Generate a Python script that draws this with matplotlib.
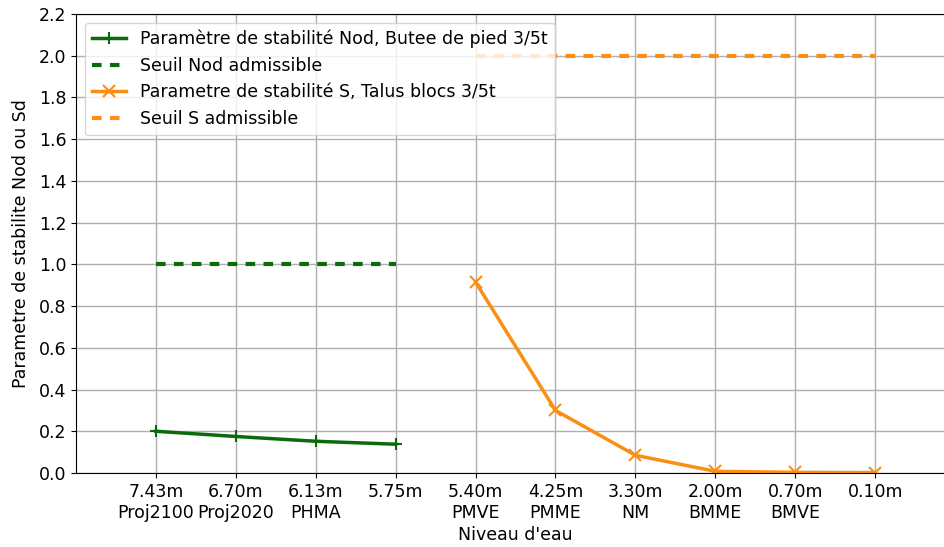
import matplotlib
matplotlib.use("Agg")
import matplotlib.pyplot as plt

categories = ["7.43m\nProj2100", "6.70m\nProj2020", "6.13m\nPHMA", "5.75m", "5.40m\nPMVE",
              "4.25m\nPMME", "3.30m\nNM", "2.00m\nBMME", "0.70m\nBMVE", "0.10m"]
nod_x = [0, 1, 2, 3]
nod_values = [0.20, 0.175, 0.152, 0.138]
nod_threshold = [1.0, 1.0, 1.0, 1.0]
s_x = [4, 5, 6, 7, 8, 9]
s_values = [0.915, 0.30, 0.085, 0.008, 0.003, 0.002]
s_threshold = [2.0, 2.0, 2.0, 2.0, 2.0, 2.0]

fs = 12.5
green = "#0b6b0b"
orange = "#fb8f14"
fig = plt.figure(figsize=(9.44, 5.47), dpi=100)
ax = fig.add_axes([0.0805, 0.1353, 0.9312, 0.8391])

ax.plot(nod_x, nod_values, color=green, marker="+", markersize=9, mew=1.5, lw=2.5,
        label="Paramètre de stabilité Nod, Butee de pied 3/5t")
ax.plot(nod_x, nod_threshold, color=green, ls=(0, (2.3, 2.0)), lw=3,
        label="Seuil Nod admissible")
ax.plot(s_x, s_values, color=orange, marker="x", markersize=8, mew=1.5, lw=2.5,
        label="Parametre de stabilité S, Talus blocs 3/5t")
ax.plot(s_x, s_threshold, color=orange, ls=(0, (2.3, 2.0)), lw=3,
        label="Seuil S admissible")

ax.set_xlim(-1, 10)
ax.set_ylim(0, 2.2)
ax.set_xticks(range(len(categories)))
ax.set_xticklabels(categories, fontsize=fs, linespacing=1.25)
ax.set_yticks([0.0, 0.2, 0.4, 0.6, 0.8, 1.0, 1.2, 1.4, 1.6, 1.8, 2.0, 2.2])
ax.tick_params(axis="y", labelsize=fs)
ax.grid(True, color="#b0b0b0", lw=1)
ax.set_axisbelow(True)
ax.set_xlabel("Niveau d'eau", fontsize=fs, labelpad=3)
ax.set_ylabel("Parametre de stabilite Nod ou Sd", fontsize=fs, labelpad=6)
ax.legend(loc="upper left", fontsize=fs, framealpha=0.8)

fig.savefig("out.png", dpi=100)
